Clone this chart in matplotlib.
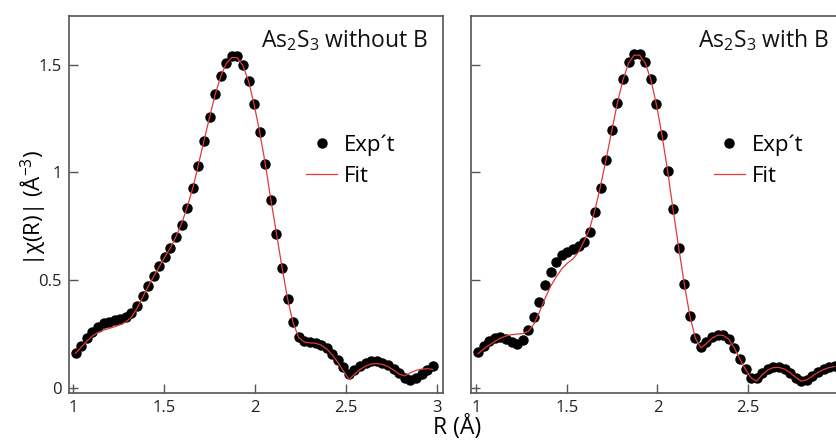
import matplotlib
matplotlib.use("Agg")
import matplotlib.pyplot as plt

plt.rcParams["font.family"] = ["Open Sans", "DejaVu Sans"]
plt.rcParams["mathtext.fontset"] = "custom"
plt.rcParams["mathtext.rm"] = "Open Sans"
plt.rcParams["mathtext.it"] = "Open Sans"

# R grid (Angstrom)
r = [1.012, 1.043, 1.074, 1.104, 1.135, 1.166, 1.197, 1.227, 1.258, 1.289,
     1.319, 1.350, 1.381, 1.411, 1.442, 1.473, 1.503, 1.534, 1.565, 1.595,
     1.626, 1.657, 1.687, 1.718, 1.749, 1.779, 1.810, 1.841, 1.871, 1.902,
     1.933, 1.964, 1.994, 2.025, 2.056, 2.086, 2.117, 2.148, 2.178, 2.209,
     2.240, 2.270, 2.301, 2.332, 2.362, 2.393, 2.424, 2.454, 2.485, 2.516,
     2.546, 2.577, 2.608, 2.638, 2.669, 2.700, 2.730, 2.761, 2.792, 2.822,
     2.853, 2.884, 2.915, 2.945, 2.976]

# As2S3 without B
exp_noB = [0.162, 0.195, 0.232, 0.260, 0.283, 0.299, 0.307, 0.313, 0.320, 0.330,
           0.348, 0.379, 0.426, 0.472, 0.518, 0.565, 0.608, 0.650, 0.701, 0.758,
           0.836, 0.927, 1.032, 1.146, 1.258, 1.364, 1.448, 1.510, 1.541, 1.539,
           1.497, 1.424, 1.316, 1.187, 1.038, 0.874, 0.716, 0.557, 0.413, 0.306,
           0.237, 0.215, 0.210, 0.208, 0.200, 0.182, 0.157, 0.128, 0.095, 0.062,
           0.080, 0.100, 0.115, 0.123, 0.122, 0.116, 0.104, 0.088, 0.068, 0.046,
           0.036, 0.044, 0.062, 0.082, 0.100]
fit_noB = [0.160, 0.188, 0.216, 0.240, 0.256, 0.267, 0.275, 0.283, 0.292, 0.305,
           0.328, 0.368, 0.420, 0.470, 0.517, 0.563, 0.607, 0.650, 0.703, 0.762,
           0.838, 0.928, 1.033, 1.146, 1.256, 1.360, 1.445, 1.506, 1.534, 1.533,
           1.495, 1.423, 1.316, 1.187, 1.038, 0.874, 0.716, 0.557, 0.413, 0.300,
           0.232, 0.212, 0.208, 0.206, 0.198, 0.180, 0.152, 0.118, 0.078, 0.038,
           0.062, 0.085, 0.100, 0.110, 0.112, 0.108, 0.098, 0.082, 0.063, 0.055,
           0.068, 0.080, 0.086, 0.088, 0.085]

# As2S3 with B
exp_B = [0.167, 0.192, 0.216, 0.231, 0.233, 0.225, 0.212, 0.204, 0.221, 0.268,
         0.330, 0.400, 0.477, 0.535, 0.583, 0.616, 0.632, 0.645, 0.656, 0.677,
         0.725, 0.814, 0.928, 1.060, 1.199, 1.324, 1.432, 1.513, 1.552, 1.552,
         1.513, 1.432, 1.316, 1.173, 1.007, 0.828, 0.650, 0.481, 0.335, 0.230,
         0.188, 0.213, 0.233, 0.245, 0.245, 0.225, 0.183, 0.133, 0.085, 0.045,
         0.045, 0.068, 0.088, 0.096, 0.095, 0.086, 0.070, 0.047, 0.029, 0.037,
         0.055, 0.073, 0.086, 0.094, 0.100]
fit_B = [0.158, 0.180, 0.198, 0.215, 0.230, 0.240, 0.246, 0.249, 0.251, 0.262,
         0.295, 0.352, 0.415, 0.470, 0.515, 0.552, 0.578, 0.598, 0.630, 0.680,
         0.738, 0.830, 0.940, 1.065, 1.198, 1.322, 1.430, 1.508, 1.545, 1.545,
         1.508, 1.430, 1.316, 1.173, 1.007, 0.828, 0.650, 0.481, 0.335, 0.228,
         0.185, 0.205, 0.230, 0.244, 0.243, 0.225, 0.183, 0.133, 0.085, 0.045,
         0.030, 0.060, 0.082, 0.093, 0.094, 0.086, 0.070, 0.048, 0.030, 0.036,
         0.053, 0.071, 0.084, 0.093, 0.098]

titles = ["As$_2$S$_3$ without B", "As$_2$S$_3$ with B"]
xticks = [1, 1.5, 2, 2.5, 3]
xticklabels = ["1", "1.5", "2", "2.5", "3"]
yticks = [0, 0.5, 1, 1.5]
yticklabels = ["0", "0.5", "1", "1.5"]

W, H = 837, 443
fig = plt.figure(figsize=(W / 100, H / 100), dpi=100)
ax1 = fig.add_axes([69 / W, 1 - 393 / H, 374 / W, 377 / H])
ax2 = fig.add_axes([470.7 / W, 1 - 393 / H, 373 / W, 377 / H])

spine_col = "#555555"
for ax, ex, ft, title, xl, lx in [(ax1, exp_noB, fit_noB, titles[0], (0.976, 3.033), 0.634),
                                  (ax2, exp_B, fit_B, titles[1], (0.971, 3.026), 0.652)]:
    ax.plot(r, ex, "o", color="black", ms=6.5, mec="black", label="Exp\u00b4t", zorder=2)
    ax.plot(r, ft, "-", color="#e03a3a", lw=0.9, label="Fit", zorder=3)
    ax.set_xlim(*xl)
    ax.set_ylim(-0.025, 1.727)
    ax.set_yticks(yticks)
    ax.tick_params(direction="in", length=6.5, width=1, color=spine_col,
                   labelsize=12, labelcolor="#222222", pad=5)
    for s in ax.spines.values():
        s.set_color(spine_col)
        s.set_linewidth(1.2)
    ax.text(0.96, 0.936, title, transform=ax.transAxes, ha="right", va="center",
            fontsize=16.5, color="#111111")
    ax.legend(loc="upper left", bbox_to_anchor=(lx, 0.685),
              frameon=False, fontsize=16, handlelength=1.4, handletextpad=0.3,
              borderpad=0, borderaxespad=0, labelspacing=0.42)

ax1.set_xticks(xticks)
ax1.set_xticklabels(xticklabels)
ax1.set_yticklabels(yticklabels)
ax2.set_xticks(xticks[:-1])
ax2.set_xticklabels(xticklabels[:-1])
ax2.set_yticklabels([])

ax1.set_ylabel("|\u03c7(R)| (\u00c5$^{-3}$)", fontsize=16)
ax1.yaxis.set_label_coords(-21 / 374, 0.49)
fig.text(457 / W, 1 - 428 / H, "R (\u00c5)", ha="center", va="center", fontsize=16.5)

fig.savefig("out.png", dpi=100)
